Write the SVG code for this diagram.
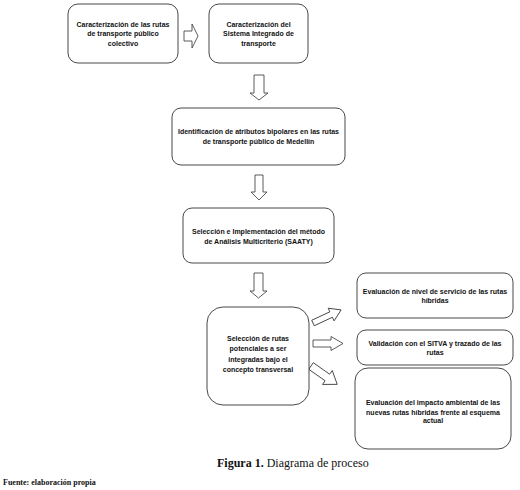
<svg xmlns="http://www.w3.org/2000/svg" width="520" height="490" viewBox="0 0 520 490">
<style>
.box{fill:#fff;stroke:#1a1a1a;stroke-width:0.8}
.arr{fill:#fff;stroke:#333;stroke-width:0.8;stroke-linejoin:miter}
.t{font-family:"Liberation Sans",Arial,sans-serif;font-size:7px;font-weight:bold;fill:#111;text-anchor:middle}
.cap{font-family:"Liberation Serif","Times New Roman",serif;fill:#111}
</style>
<rect width="520" height="490" fill="#fff"/>
<g id="connectors">
<path class="arr" d="M184,31 H192 V24 L198,36 L192,48 V41 H184 Z"/>
<path class="arr" d="M254,75 H264 V93 H268 L259,100 L250,93 H254 Z"/>
<path class="arr" d="M255,175 H263 V192 H267 L259,200 L251,192 H255 Z"/>
<path class="arr" d="M254,273 H263 V291 H267 L258.5,298 L250,291 H254 Z"/>
<path class="arr" transform="translate(313,323) rotate(-25)" d="M0,-3 H20 V-7 L31,0 L20,7 V3 H0 Z"/>
<path class="arr" d="M313,340 H331 V336.5 L343,343.5 L331,350.5 V347 H313 Z"/>
<path class="arr" transform="translate(311,366) rotate(35)" d="M0,-4 H20 V-8.5 L32,0 L20,8.5 V4 H0 Z"/>
</g>
<g id="n1">
<rect class="box" x="68" y="4" width="110" height="59" rx="10"/>
<text class="t" x="123" y="26.5">Caracterización de las rutas</text>
<text class="t" x="123" y="36">de transporte público</text>
<text class="t" x="123" y="45.5">colectivo</text>
</g>
<g id="n2">
<rect class="box" x="209" y="4" width="99" height="59" rx="10"/>
<text class="t" x="258.5" y="26.5">Caracterización del</text>
<text class="t" x="258.5" y="36">Sistema Integrado de</text>
<text class="t" x="258.5" y="45.5">transporte</text>
</g>
<g id="n3">
<rect class="box" x="172" y="108" width="173" height="57" rx="9"/>
<text class="t" x="258.5" y="133.5">Identificación de atributos bipolares en las rutas</text>
<text class="t" x="258.5" y="143.5">de transporte público de Medellín</text>
</g>
<g id="n4">
<rect class="box" x="183" y="208" width="151" height="55" rx="9"/>
<text class="t" x="258.5" y="234">Selección e Implementación del método</text>
<text class="t" x="258.5" y="243.5">de Análisis  Multicriterio (SAATY)</text>
</g>
<g id="n5">
<rect class="box" x="207" y="307" width="102" height="98" rx="16"/>
<text class="t" x="258" y="340.5">Selección de rutas</text>
<text class="t" x="258" y="351">potenciales a ser</text>
<text class="t" x="258" y="361.5">integradas bajo el</text>
<text class="t" x="258" y="372">concepto transversal</text>
</g>
<g id="n6">
<rect class="box" x="357" y="273" width="156" height="45" rx="9"/>
<text class="t" x="435" y="293.5">Evaluación de nivel de servicio de las rutas</text>
<text class="t" x="435" y="302.5">híbridas</text>
</g>
<g id="n7">
<rect class="box" x="357" y="330" width="156" height="35" rx="9"/>
<text class="t" x="435" y="346">Validación con el SITVA y trazado de las</text>
<text class="t" x="435" y="354.5">rutas</text>
</g>
<g id="n8">
<rect class="box" x="355" y="368" width="156" height="81" rx="13"/>
<text class="t" x="433" y="404.5">Evaluación del impacto ambiental de las</text>
<text class="t" x="433" y="414.5">nuevas rutas híbridas frente al esquema</text>
<text class="t" x="433" y="423">actual</text>
</g>
<g id="captions">
<text class="cap" x="217" y="467" font-size="12"><tspan font-weight="bold">Figura 1.</tspan> Diagrama de proceso</text>
<text class="cap" x="3" y="485" font-size="8" font-weight="bold">Fuente: elaboración propia</text>
</g>
</svg>
